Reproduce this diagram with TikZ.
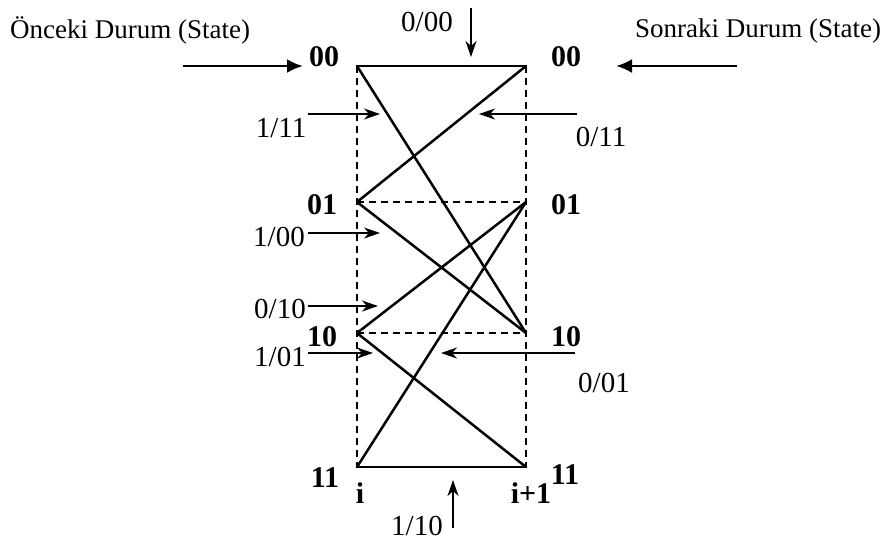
\documentclass[tikz,border=0pt]{standalone}
\usepackage{fontspec}
\setmainfont{Liberation Serif}
\usetikzlibrary{arrows.meta}
\begin{document}
\begin{tikzpicture}[x=1pt,y=-1pt,
  trel/.style={line width=2.5pt, line cap=round},
  dsh/.style={line width=2.2pt, dash pattern=on 7pt off 5pt},
  lbl/.style={font=\fontsize{29}{31}\selectfont, inner sep=0pt},
  stl/.style={font=\fontsize{30}{32}\selectfont\bfseries, inner sep=0pt},
  ttl/.style={font=\fontsize{27}{30}\selectfont, inner sep=0pt, anchor=base west},
  inarr/.style={line width=2.6pt, -{Latex[length=16pt,width=14pt]}},
  larr/.style={line width=2pt, -{Stealth[length=16pt,width=11pt,inset=5pt]}}]
\useasboundingbox (0,0) rectangle (883,542);
% trellis points
\coordinate (L0) at (357,66);  \coordinate (R0) at (526,66);
\coordinate (L1) at (357,202); \coordinate (R1) at (526,202);
\coordinate (L2) at (357,333); \coordinate (R2) at (526,333);
\coordinate (L3) at (357,467); \coordinate (R3) at (526,467);
% dashed frame
\draw[dsh] (L0) -- (L3);
\draw[dsh] (R0) -- (R3);
\draw[dsh] (L1) -- (R1);
\draw[dsh] (L2) -- (R2);
% transitions
\draw[trel] (L0) -- (R0);
\draw[trel] (L0) -- (R2);
\draw[trel] (L1) -- (R0);
\draw[trel] (L1) -- (R2);
\draw[trel] (L2) -- (R1);
\draw[trel] (L2) -- (R3);
\draw[trel] (L3) -- (R1);
\draw[trel] (L3) -- (R3);
% state labels
\node[stl] (sL0) at (324,57) {00};
\node[stl] (sR0) at (566,57) {00};
\node[stl] (sL1) at (322,205) {01};
\node[stl] (sR1) at (566,205) {01};
\node[stl] (sL2) at (322,337) {10};
\node[stl] (sR2) at (566,337) {10};
\node[stl] (sL3) at (325,478) {11};
\node[stl] (sR3) at (565,475) {11};
\node[stl] (ti) at (360,493) {i};
\node[stl] (ti1) at (531,493) {i+1};
% titles
\node[ttl] (prev) at (10,38) {Önceki Durum (State)};
\node[ttl] (next) at (635,37) {Sonraki Durum (State)};
% input arrows
\coordinate (inLs) at (183,66); \coordinate (inLe) at (303,66);
\coordinate (inRs) at (737,66); \coordinate (inRe) at (616,66);
\draw[inarr] (inLs) -- (inLe);
\draw[inarr] (inRs) -- (inRe);
% transition labels
\node[lbl] (t000) at (427,22) {0/00};
\node[lbl] (t111) at (281,128) {1/11};
\node[lbl] (t011) at (601,137) {0/11};
\node[lbl] (t100) at (279,237) {1/00};
\node[lbl] (t010) at (280,309) {0/10};
\node[lbl] (t101) at (280,357) {1/01};
\node[lbl] (t001) at (604,383) {0/01};
\node[lbl] (t110) at (417,526) {1/10};
% label arrows
\coordinate (a1s) at (471,8);   \coordinate (a1e) at (471,57);
\coordinate (a2s) at (308,114); \coordinate (a2e) at (380,114);
\coordinate (a3s) at (577,114); \coordinate (a3e) at (479,114);
\coordinate (a4s) at (308,233); \coordinate (a4e) at (380,233);
\coordinate (a5s) at (308,306); \coordinate (a5e) at (378,306);
\coordinate (a6s) at (308,353); \coordinate (a6e) at (373,353);
\coordinate (a7s) at (575,353); \coordinate (a7e) at (441,353);
\coordinate (a8s) at (453,528); \coordinate (a8e) at (453,480);
\draw[larr] (a1s) -- (a1e);
\draw[larr] (a2s) -- (a2e);
\draw[larr] (a3s) -- (a3e);
\draw[larr] (a4s) -- (a4e);
\draw[larr] (a5s) -- (a5e);
\draw[larr] (a6s) -- (a6e);
\draw[larr] (a7s) -- (a7e);
\draw[larr] (a8s) -- (a8e);
\end{tikzpicture}
\end{document}
